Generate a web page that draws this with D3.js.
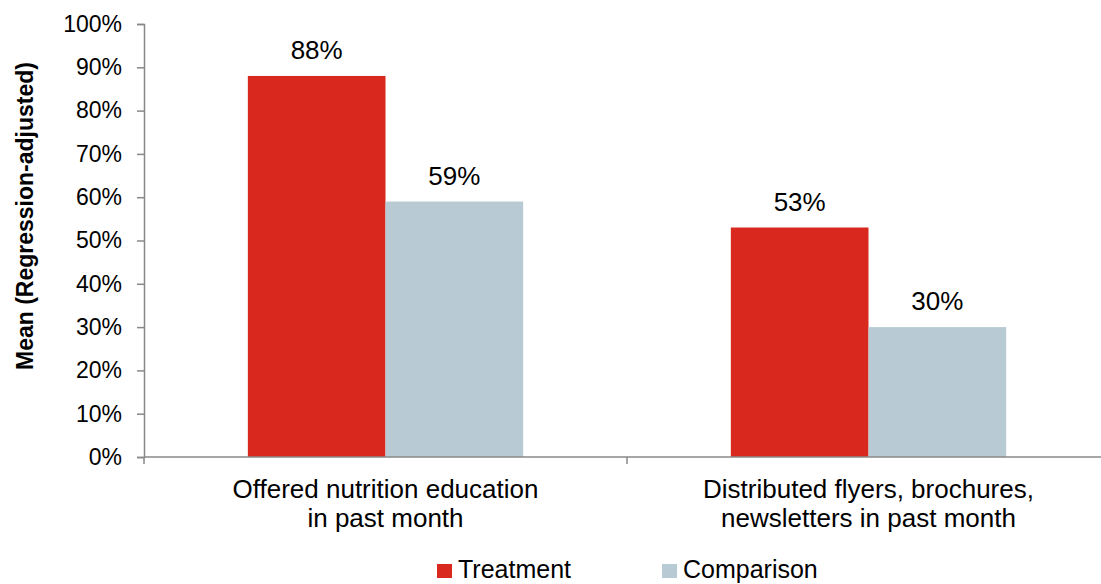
<!DOCTYPE html>
<html>
<head>
<meta charset="utf-8">
<script src="https://cdn.jsdelivr.net/npm/d3@7"></script>
<style>
  body { margin: 0; background: #fff; }
  svg { display: block; font-family: Arial, "Liberation Sans", sans-serif; }
</style>
</head>
<body>
<svg id="chart" width="1101" height="584"></svg>
<script>
const categories = [
  ["Offered nutrition education", "in past month"],
  ["Distributed flyers, brochures,", "newsletters in past month"]
];
const seriesNames = ["Treatment", "Comparison"];
const treatment = [88, 53];
const comparison = [59, 30];
const yTicks = [0, 10, 20, 30, 40, 50, 60, 70, 80, 90, 100];
const colors = ["#D9281E", "#B8CAD4"];

const svg = d3.select("#chart");
const plotLeft = 144, plotRight = 1110, plotTop = 24, plotBottom = 457;

const x0 = d3.scaleBand().domain(d3.range(categories.length)).range([plotLeft, plotRight]).paddingInner(0).paddingOuter(0);
const bandPad = 0.215;
const x1 = d3.scaleBand().domain(seriesNames).range([x0.bandwidth() * bandPad, x0.bandwidth() * (1 - bandPad)]);
const y = d3.scaleLinear().domain([0, 100]).range([plotBottom, plotTop]);

// y axis
const yAxis = svg.append("g").attr("transform", `translate(${plotLeft},0)`)
  .call(d3.axisLeft(y).tickValues(yTicks).tickFormat(d => d + "%").tickSize(7).tickPadding(15));
yAxis.select(".domain").attr("stroke", "#888").attr("stroke-width", 1.5);
yAxis.selectAll(".tick line").attr("stroke", "#888").attr("stroke-width", 1.5);
yAxis.selectAll(".tick text").attr("font-size", 23).attr("fill", "#000")
  .attr("font-family", "Arial, 'Liberation Sans', sans-serif");

// bars
const data = categories.map((c, i) => ({ i, values: [treatment[i], comparison[i]] }));
const groups = svg.append("g").selectAll("g").data(data).join("g")
  .attr("transform", d => `translate(${x0(d.i)},0)`);
groups.selectAll("rect").data(d => d.values.map((v, k) => ({ k, v })))
  .join("rect")
  .attr("x", d => x1(seriesNames[d.k]))
  .attr("width", x1.bandwidth())
  .attr("y", d => y(d.v))
  .attr("height", d => y(0) - y(d.v))
  .attr("fill", d => colors[d.k]);
groups.selectAll("text.val").data(d => d.values.map((v, k) => ({ k, v })))
  .join("text").attr("class", "val")
  .attr("x", d => x1(seriesNames[d.k]) + x1.bandwidth() / 2)
  .attr("y", d => y(d.v) - 17)
  .attr("text-anchor", "middle").attr("font-size", 26).attr("fill", "#000")
  .text(d => d.v + "%");

// x axis
const xAxis = svg.append("g").attr("transform", `translate(0,${plotBottom})`);
xAxis.append("line").attr("x1", plotLeft).attr("x2", plotRight).attr("stroke", "#888").attr("stroke-width", 1.5);
xAxis.selectAll("line.tk").data(d3.range(categories.length + 1)).join("line").attr("class", "tk")
  .attr("x1", i => plotLeft + i * x0.bandwidth()).attr("x2", i => plotLeft + i * x0.bandwidth())
  .attr("y1", 0).attr("y2", 7).attr("stroke", "#888").attr("stroke-width", 1.5);
const catLabels = svg.append("g").selectAll("text").data(categories).join("text")
  .attr("x", (d, i) => x0(i) + x0.bandwidth() / 2)
  .attr("y", 498).attr("text-anchor", "middle").attr("font-size", 26).attr("fill", "#000");
catLabels.selectAll("tspan").data(d => d).join("tspan")
  .attr("x", function () { return this.parentNode.getAttribute("x"); })
  .attr("dy", (d, k) => k === 0 ? 0 : 29)
  .text(d => d);

// y axis title
svg.append("text").attr("transform", "translate(33,216) rotate(-90)")
  .attr("text-anchor", "middle").attr("font-size", 23).attr("font-weight", "bold").attr("fill", "#000")
  .text("Mean (Regression-adjusted)");

// legend
const legendX = [437, 662];
const legend = svg.append("g").selectAll("g").data(seriesNames).join("g")
  .attr("transform", (d, i) => `translate(${legendX[i]},564)`);
legend.append("rect").attr("width", 15).attr("height", 14).attr("fill", (d, i) => colors[i]);
legend.append("text").attr("x", 21).attr("y", 14).attr("font-size", 25).attr("fill", "#000").text(d => d);
</script>
</body>
</html>
